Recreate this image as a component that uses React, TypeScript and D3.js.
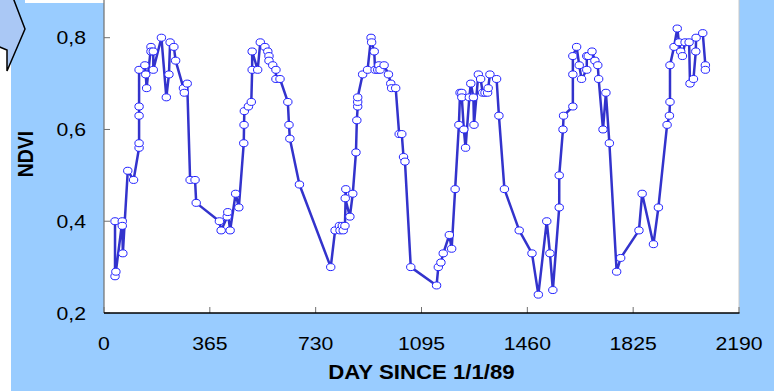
import * as d3 from "d3";

// NDVI time series, days since 1/1/89
const days = [
  38, 38, 41, 63, 63, 65, 82, 102, 121, 121, 121, 121, 121, 141, 144, 147, 162, 162, 170, 170,
  198, 215, 224, 228, 241, 247, 274, 277, 287, 297, 314, 318, 398, 404, 425, 427, 435, 454, 465, 482,
  483, 484, 498, 508, 511, 511, 530, 539, 555, 565, 569, 569, 582, 593, 593, 607, 634, 638, 641, 674,
  782, 797, 812, 814, 822, 825, 831, 834, 832, 848, 858, 869, 872, 875, 875, 875, 892, 909, 921, 923,
  932, 935, 944, 948, 952, 966, 981, 989, 992, 1006, 1018, 1027, 1033, 1038, 1058, 1147, 1153, 1162, 1170, 1191,
  1199, 1211, 1224, 1228, 1234, 1234, 1241, 1247, 1260, 1265, 1274, 1276, 1291, 1299, 1306, 1314, 1323, 1325, 1331, 1354,
  1362, 1381, 1432, 1476, 1498, 1527, 1538, 1548, 1570, 1570, 1583, 1585, 1617, 1617, 1617, 1630, 1639, 1647, 1665, 1665,
  1670, 1683, 1693, 1703, 1706, 1721, 1731, 1743, 1768, 1782, 1845, 1856, 1895, 1912, 1942, 1950, 1952, 1952, 1966, 1977,
  1983, 1989, 1995, 2004, 2018, 2021, 2033, 2041, 2042, 2065, 2074, 2074,
];
const ndvi = [
  0.40, 0.28, 0.29, 0.40, 0.39, 0.33, 0.51, 0.49, 0.56, 0.57, 0.63, 0.65, 0.73, 0.74, 0.72, 0.69, 0.78, 0.77, 0.77, 0.73,
  0.80, 0.67, 0.72, 0.79, 0.78, 0.75, 0.69, 0.68, 0.70, 0.49, 0.49, 0.44, 0.40, 0.38, 0.41, 0.42, 0.38, 0.46, 0.43, 0.57,
  0.61, 0.64, 0.65, 0.66, 0.73, 0.77, 0.73, 0.79, 0.78, 0.77, 0.76, 0.75, 0.74, 0.73, 0.71, 0.71, 0.66, 0.61, 0.58, 0.48,
  0.30, 0.38, 0.39, 0.38, 0.39, 0.38, 0.39, 0.47, 0.45, 0.41, 0.46, 0.55, 0.62, 0.65, 0.66, 0.67, 0.72, 0.73, 0.80, 0.79,
  0.77, 0.73, 0.73, 0.74, 0.73, 0.74, 0.72, 0.70, 0.69, 0.69, 0.59, 0.59, 0.54, 0.53, 0.30, 0.26, 0.30, 0.31, 0.33, 0.37,
  0.34, 0.47, 0.61, 0.68, 0.68, 0.67, 0.60, 0.56, 0.67, 0.70, 0.67, 0.61, 0.72, 0.71, 0.68, 0.68, 0.68, 0.69, 0.72, 0.71,
  0.63, 0.47, 0.38, 0.33, 0.24, 0.40, 0.33, 0.25, 0.43, 0.50, 0.60, 0.63, 0.65, 0.72, 0.76, 0.78, 0.74, 0.71, 0.73, 0.76,
  0.76, 0.77, 0.75, 0.74, 0.71, 0.60, 0.68, 0.57, 0.29, 0.32, 0.38, 0.46, 0.35, 0.43, 0.61, 0.63, 0.66, 0.74, 0.78, 0.82,
  0.79, 0.77, 0.76, 0.79, 0.79, 0.70, 0.71, 0.77, 0.80, 0.81, 0.74, 0.73,
];
const xTicks = [0, 365, 730, 1095, 1460, 1825, 2190];
const yTicks = [0.2, 0.4, 0.6, 0.8];

const W = 774;
const H = 391;
const plot = { left: 104, right: 739, top: 0, bottom: 313 };
const lineColor = "#3333cc";
const stretch = 1.18;

const commaFmt = d3
  .formatLocale({ decimal: ",", thousands: ".", grouping: [3], currency: ["", ""] })
  .format(".1f");

export default function App() {
  const x = d3.scaleLinear().domain([0, 2190]).range([plot.left, plot.right]);
  const y = d3.scaleLinear().domain([0.2, 0.8]).range([plot.bottom, 37.7]);

  const pts = days.map((d, i) => [d, ndvi[i]] as [number, number]);
  const line = d3
    .line<[number, number]>()
    .x((d) => x(d[0]))
    .y((d) => y(d[1]));

  return (
    <svg
      width={W}
      height={H}
      style={{ position: "absolute", left: 0, top: 0 }}
      fontFamily="'Liberation Sans', Arial, sans-serif"
    >
      <rect x={0} y={0} width={W} height={H} fill="#fff" />
      <rect x={11} y={0} width={W - 11} height={H} fill="#99ccff" />
      <rect x={25} y={0} width={plot.left - 25} height={3} fill="#fff" />
      {/* decorative arrow at top left */}
      <polygon
        points="-5,-5 12,-5 25,29 7,71 7,50 -5,45"
        fill="#aac8f5"
        stroke="#000"
        strokeWidth={1.5}
      />
      {/* plot area */}
      <rect
        x={plot.left}
        y={plot.top}
        width={plot.right - plot.left}
        height={plot.bottom - plot.top}
        fill="#fff"
      />
      <line x1={plot.right} x2={plot.right} y1={0} y2={plot.bottom} stroke="#c8c8c8" />
      <line x1={plot.left} x2={plot.left} y1={0} y2={plot.bottom} stroke="#707070" strokeWidth={1.2} />

      {yTicks.map((t) => (
        <g key={"y" + t}>
          <line x1={plot.left} x2={plot.left + 6} y1={y(t)} y2={y(t)} stroke="#707070" />
          <text
            transform={`translate(86,${y(t) + 6.5}) scale(${stretch},1)`}
            textAnchor="end"
            fontSize={18}
            fill="#000"
          >
            {commaFmt(t)}
          </text>
        </g>
      ))}
      {xTicks.map((t) => (
        <g key={"x" + t}>
          <line x1={x(t)} x2={x(t)} y1={plot.bottom} y2={plot.bottom - 6} stroke="#707070" />
          <text
            transform={`translate(${x(t)},350) scale(${stretch},1)`}
            textAnchor="middle"
            fontSize={18}
            fill="#000"
          >
            {t}
          </text>
        </g>
      ))}
      <line x1={plot.left} x2={plot.right + 0.5} y1={plot.bottom} y2={plot.bottom} stroke="#000" strokeWidth={1.5} />

      <path d={line(pts) ?? ""} fill="none" stroke={lineColor} strokeWidth={2.5} strokeLinejoin="round" />
      {pts.map((p, i) => (
        <ellipse
          key={i}
          cx={x(p[0])}
          cy={y(p[1])}
          rx={4.2}
          ry={3.5}
          fill="#fff"
          stroke="#2222ff"
          strokeWidth={1}
        />
      ))}

      <text
        transform={`translate(33,154) scale(1.15,1) rotate(-90)`}
        textAnchor="middle"
        fontSize={19.5}
        fontWeight="bold"
        fill="#000"
      >
        NDVI
      </text>
      <text
        transform={`translate(421.5,379) scale(1.14,1)`}
        textAnchor="middle"
        fontSize={19.5}
        fontWeight="bold"
        fill="#000"
      >
        DAY SINCE 1/1/89
      </text>
    </svg>
  );
}
